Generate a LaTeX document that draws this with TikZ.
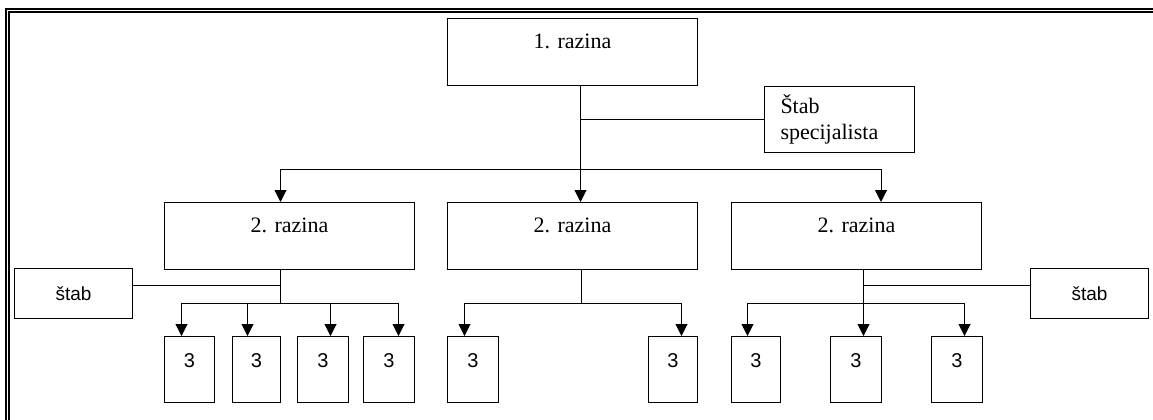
\documentclass[tikz,border=0pt]{standalone}
\usepackage{fontspec}
\setmainfont{Liberation Serif}
\setsansfont{Liberation Sans}
\usetikzlibrary{arrows.meta}

\begin{document}
\begin{tikzpicture}[x=1pt, y=-1pt, line width=1pt]
	\tikzstyle{razina} = [draw, rectangle, anchor=north west, inner sep=0pt, minimum width=250pt, text height=30pt, text depth=37pt, font=\fontsize{22}{26}\selectfont]
	\tikzstyle{treci}  = [draw, rectangle, anchor=north west, inner sep=0pt, text height=31pt, text depth=35pt, font=\sffamily\fontsize{20}{24}\selectfont]
	\tikzstyle{stab}   = [draw, rectangle, anchor=north west, inner sep=0pt, minimum width=118pt, minimum height=50pt, font=\sffamily\fontsize{19}{23}\selectfont]
	\tikzstyle{arr}    = [-{Triangle[length=12pt, width=12pt]}]

	\useasboundingbox (0,0) rectangle (1153,420);
%	\draw[step=50, gray!30] (0,0) grid (1153,420);

	% okvir
	\draw[line width=2.3pt] (6,420) -- (6,9) -- (1153,9);
	\draw[line width=1.7pt] (9.2,420) -- (9.2,12.3) -- (1153,12.3);

	\node[razina] (r1) at (447,18) {1. razina};
	\node[draw, anchor=north west, minimum width=150pt, minimum height=66pt, text width=118pt, inner xsep=16pt, inner ysep=0pt, align=left, font=\fontsize{22}{26}\selectfont] (stabS) at (764,86) {Štab\\specijalista};

	\foreach \ime/\x in {r2a/164, r2b/447, r2c/731}
		\node[razina] (\ime) at (\x, 202) {2. razina};
	\node[stab] (stabA) at (14, 268) {štab};
	\node[stab] (stabC) at (1030, 268) {štab};

	\foreach \ime/\x/\w in {a1/164/50, a2/232/48, a3/297/51, a4/363/51, b1/447/51, b2/648/49, c1/731/49, c2/830/51, c3/931/51}
		\node[treci, minimum width=\w pt] (\ime) at (\x, 336) {3};

	\coordinate (s0) at (580, 169);
	\coordinate (sA) at (280, 303);
	\coordinate (sB) at (581, 303);
	\coordinate (sC) at (863, 303);

	% 1. -> 2. razina
	\draw (r1.south -| s0) -- (s0);
	\draw (stabS.west) -- (stabS.west -| s0);
	\foreach \ime/\d in {r2a/-9, r2b/8, r2c/24.5}
		\draw[arr] (s0) -| ([xshift=\d pt]\ime.north);

	% 2. -> 3. razina
	\draw (r2a.south -| sA) -- (sA);
	\draw ([yshift=8pt]stabA.east) -- ([yshift=8pt]stabA.east -| sA);
	\foreach \ime/\d in {a1/-8, a2/-9, a3/7.5, a4/9.5}
		\draw[arr] (sA) -| ([xshift=\d pt]\ime.north);

	\draw (r2b.south -| sB) -- (sB);
	\foreach \ime/\d in {b1/-8.5, b2/8.5}
		\draw[arr] (sB) -| ([xshift=\d pt]\ime.north);

	\draw (r2c.south -| sC) -- (sC);
	\draw ([yshift=8pt]stabC.west) -- ([yshift=8pt]stabC.west -| sC);
	\foreach \ime/\d in {c1/-8.5, c2/7.5, c3/7.5}
		\draw[arr] (sC) -| ([xshift=\d pt]\ime.north);
\end{tikzpicture}
\end{document}
